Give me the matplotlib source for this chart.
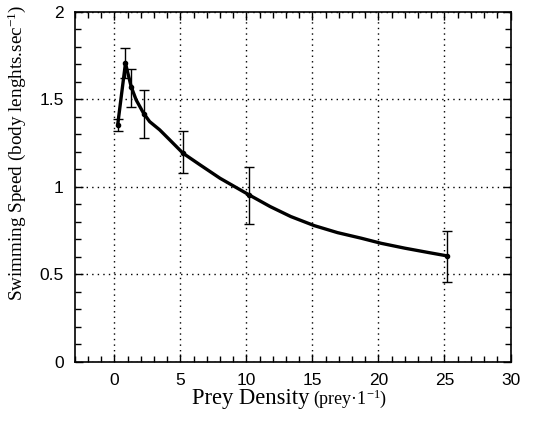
import matplotlib
matplotlib.use("Agg")
import matplotlib.pyplot as plt
from matplotlib.ticker import MultipleLocator

# Measured means and error-bar limits
density = [0.25, 0.84, 1.27, 2.24, 5.2, 10.2, 25.2]
speed = [1.354, 1.707, 1.573, 1.415, 1.192, 0.954, 0.605]
err_low = [1.32, 1.62, 1.455, 1.278, 1.078, 0.79, 0.458]
err_high = [1.389, 1.793, 1.675, 1.554, 1.32, 1.115, 0.75]

# Fitted response curve
curve_x = [0.25, 0.84, 1.27, 1.65, 2.21, 2.67, 3.43, 4.2, 5.2, 6.5, 8.0,
           10.2, 11.8, 13.36, 15.14, 16.9, 18.7, 20.2, 22.0, 23.8, 25.2]
curve_y = [1.354, 1.707, 1.573, 1.497, 1.421, 1.373, 1.326, 1.268, 1.192,
           1.125, 1.049, 0.954, 0.887, 0.83, 0.778, 0.738, 0.706, 0.677,
           0.649, 0.624, 0.605]

xticks = [0, 5, 10, 15, 20, 25, 30]
yticks = [0, 0.5, 1, 1.5, 2]
ytick_labels = ["0", "0.5", "1", "1.5", "2"]

fig = plt.figure(figsize=(5.34, 4.28), dpi=100)
ax = fig.add_axes([0.140, 0.155, 0.816, 0.817])

ax.plot(curve_x, curve_y, color="black", lw=2.4, solid_capstyle="round",
        solid_joinstyle="round", zorder=3)
yerr = [[s - lo for s, lo in zip(speed, err_low)],
        [hi - s for s, hi in zip(speed, err_high)]]
ax.errorbar(density, speed, yerr=yerr, fmt="o", ms=3, color="black",
            ecolor="black", elinewidth=1.0, capsize=3.5, capthick=1.0, zorder=4)

ax.set_xlim(-3, 30)
ax.set_ylim(0, 2)
ax.set_xticks(xticks)
ax.set_yticks(yticks)
ax.set_yticklabels(ytick_labels)
ax.xaxis.set_minor_locator(MultipleLocator(1))
ax.yaxis.set_minor_locator(MultipleLocator(0.1))
ax.tick_params(which="both", direction="in", top=True, right=True,
               colors="black", width=1.0)
ax.tick_params(which="major", length=6, labelsize=12.5, pad=8)
ax.tick_params(which="minor", length=4)
for lab in ax.get_xticklabels() + ax.get_yticklabels():
    lab.set_fontfamily("Liberation Sans")

ax.grid(True, which="major", color="black", linestyle=(0, (1, 3)), lw=1.0)
for s in ax.spines.values():
    s.set_linewidth(1.2)

# x-axis title: name in larger type, unit in smaller type
fig.text(192 / 534, 1 - 404 / 428, "Prey Density", fontfamily="Liberation Serif",
         fontsize=16.3, ha="left", va="baseline")
fig.text(313 / 534, 1 - 404 / 428, "(prey·1$\\mathregular{^{-1}}$)",
         fontfamily="Liberation Serif", fontsize=13, ha="left", va="baseline")

ax.set_ylabel(r"Swimming Speed (body lenghts.sec$\mathregular{^{-1}}$)",
              fontfamily="Liberation Serif", fontsize=13.8)
ax.yaxis.set_label_coords(-0.108, 0.597)

fig.savefig("out.png", dpi=100)
